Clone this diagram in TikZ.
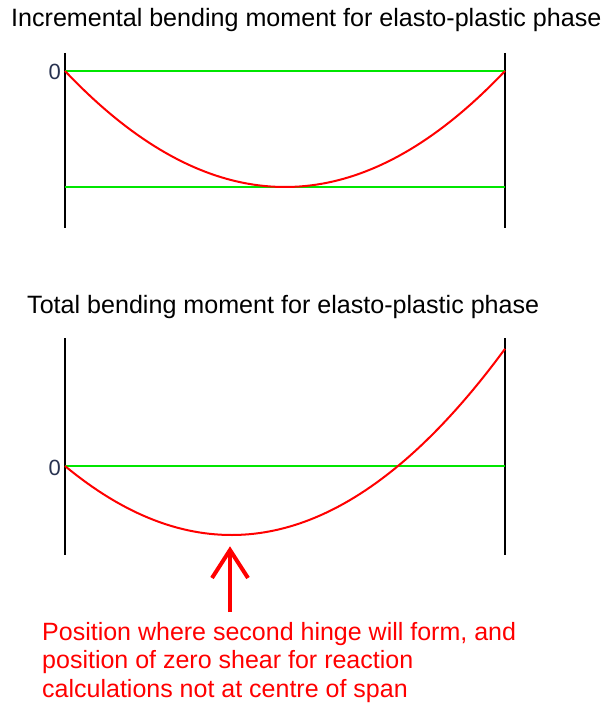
\documentclass[tikz,border=0pt]{standalone}
\usepackage{fontspec}
\setmainfont{Liberation Sans}
\begin{document}
\begin{tikzpicture}[x=1pt,y=-1pt,
  axisline/.style={black,line width=1.5pt},
  zeroline/.style={color={rgb,255:red,0;green,230;blue,0},line width=2pt},
  curve/.style={red,line width=2pt},
  title/.style={font=\fontsize{25.1}{29}\selectfont,anchor=west,inner sep=0pt},
  zerolabel/.style={font=\fontsize{22}{26}\selectfont,color={rgb,255:red,40;green,50;blue,80},anchor=east,inner sep=0pt},
  note/.style={font=\fontsize{25}{28.6}\selectfont,red,anchor=north west,align=left,inner sep=0pt}]
\useasboundingbox (0,0) rectangle (601,709);
% top panel
\node[title] (t1) at (11,20) {Incremental bending moment for elasto-plastic phase};
\coordinate (l1t) at (65,53); \coordinate (l1b) at (65,228);
\coordinate (r1t) at (505,53); \coordinate (r1b) at (505,228);
\draw[axisline] (l1t) -- (l1b);
\draw[axisline] (r1t) -- (r1b);
\coordinate (z1l) at (65,71); \coordinate (z1r) at (505,71);
\coordinate (m1l) at (65,187); \coordinate (m1r) at (505,187);
\draw[zeroline] (z1l) -- (z1r);
\draw[zeroline] (m1l) -- (m1r);
\draw[curve] plot[domain=65:505,samples=80] (\x,{71+464*((\x-65)/440)*((505-\x)/440)});
\node[zerolabel] (o1) at (61,72) {0};
% bottom panel
\node[title] (t2) at (27,307) {Total bending moment for elasto-plastic phase};
\coordinate (l2t) at (65,338); \coordinate (l2b) at (65,555);
\coordinate (r2t) at (505,338); \coordinate (r2b) at (505,555);
\draw[axisline] (l2t) -- (l2b);
\draw[axisline] (r2t) -- (r2b);
\coordinate (z2l) at (65,466); \coordinate (z2r) at (505,466);
\draw[zeroline] (z2l) -- (z2r);
\draw[curve] plot[domain=65:505,samples=80] (\x,{466-481.87*((\x-65)/440)*((\x-398)/440)});
\node[zerolabel] (o2) at (61,468) {0};
% arrow
\coordinate (tip) at (230,550);
\coordinate (tail) at (230,612);
\coordinate (al) at (212,578);
\coordinate (ar) at (248,578);
\draw[red,line width=4pt] (tail) -- (tip);
\draw[red,line width=4pt,line join=miter] (al) -- (tip) -- (ar);
\node[note] (txt) at (42,622) {Position where second hinge will form, and\\position of zero shear for reaction\\calculations not at centre of span};
\end{tikzpicture}
\end{document}
